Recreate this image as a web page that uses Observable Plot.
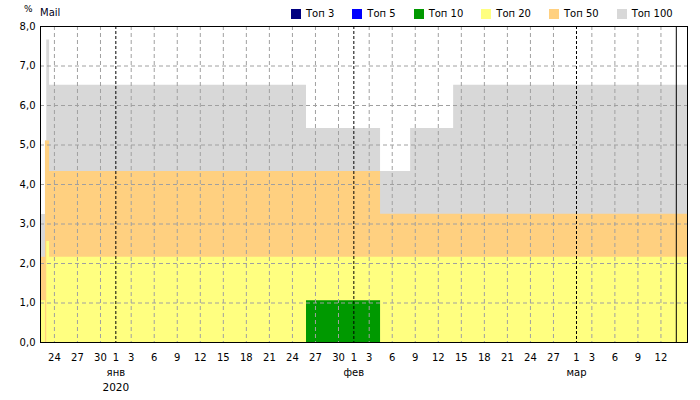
<!DOCTYPE html>
<html>
<head>
<meta charset="utf-8">
<script src="https://cdn.jsdelivr.net/npm/d3@7"></script>
<script src="https://cdn.jsdelivr.net/npm/@observablehq/plot@0.6"></script>
<style>
  html, body { margin: 0; padding: 0; background: white; }
  #wrap { position: relative; width: 700px; height: 400px; font-family: "DejaVu Sans", Verdana, sans-serif; }
  #legend { position: absolute; left: 291px; top: 9px; display: flex; align-items: center; font-size: 10px; color: #000; }
  #legend .sw { width: 10px; height: 10px; margin-right: 5px; }
  #legend .lb { margin-right: 18px; line-height: 10px; }
  #pct { position: absolute; left: 24px; top: 4px; font-size: 9px; }
  #title { position: absolute; left: 40px; top: 7px; font-size: 10px; color: #000020; }
</style>
</head>
<body>
<div id="wrap">
  <div id="chart"></div>
  <div id="pct">%</div>
  <div id="title">Mail</div>
  <div id="legend"></div>
</div>
<script>
// ---- data ----
const dates = ["2019-12-22T00:00Z", "2019-12-22T20:00Z", "2019-12-23T00:00Z", "2019-12-23T09:00Z",
               "2020-01-25T20:00Z", "2020-02-04T11:30Z", "2020-02-08T09:30Z", "2020-02-14T00:00Z",
               "2020-03-16T00:00Z"];
const top3   = [0, 0, 0, 0, 0, 0, 0, 0, 0];
const top5   = [0, 0, 0, 0, 0, 0, 0, 0, 0];
const top10  = [0, 0, 0, 0, 1.06, 0, 0, 0, 0];
const top20  = [1.06, 0, 2.56, 2.16, 2.16, 2.16, 2.16, 2.16, 2.16];
const top50  = [2.16, 5.1, 5.1, 4.33, 4.33, 3.25, 3.25, 3.25, 3.25];
const top100 = [3.24, 5.1, 7.66, 6.51, 5.42, 4.33, 5.42, 6.51, 6.51];

const seriesNames  = ["Топ 3", "Топ 5", "Топ 10", "Топ 20", "Топ 50", "Топ 100"];
const seriesColors = ["#000080", "#0000ff", "#009900", "#ffff80", "#ffd080", "#d8d8d8"];

const yTicks = [0, 1, 2, 3, 4, 5, 6, 7, 8];
const decTicks = [24, 27, 30];
const janTicks = [1, 3, 6, 9, 12, 15, 18, 21, 24, 27, 30];
const febTicks = [1, 3, 6, 9, 12, 15, 18, 21, 24, 27];
const marTicks = [1, 3, 6, 9, 12];
const monthNames = ["янв", "фев", "мар"];
const monthStartStr = ["2020-01-01T00:00Z", "2020-02-01T00:00Z", "2020-03-01T00:00Z"];
const yearLabel = "2020";
const todayStr = "2020-03-14T00:00Z";
const xDomainStr = ["2019-12-22T04:30Z", "2020-03-15T11:00Z"];

// ---- build ----
const D = dates.map(s => new Date(s));
const idx = D.map((_, i) => i);
const seriesValues = [top3, top5, top10, top20, top50, top100];

const mk = (y, m, d) => new Date(Date.UTC(y, m, d));
const tickDates = [
  ...decTicks.map(d => mk(2019, 11, d)),
  ...janTicks.map(d => mk(2020, 0, d)),
  ...febTicks.map(d => mk(2020, 1, d)),
  ...marTicks.map(d => mk(2020, 2, d))
];
const monthStarts = monthStartStr.map(s => new Date(s));
const gridDates = tickDates.filter(t => t.getUTCDate() !== 1);
const fmtY = d => d.toFixed(1).replace(".", ",");

const areas = [];
for (let k = seriesValues.length - 1; k >= 0; k--) {
  const vals = seriesValues[k];
  areas.push(Plot.areaY(idx, {
    x: i => D[i], y1: 0, y2: i => vals[i],
    curve: "step-after", fill: seriesColors[k], clip: true
  }));
}

const chart = Plot.plot({
  width: 700,
  height: 400,
  marginLeft: 40,
  marginRight: 13,
  marginTop: 26,
  marginBottom: 58,
  style: { fontFamily: "DejaVu Sans, Verdana, sans-serif", fontSize: "10px", background: "white", color: "black" },
  x: { type: "utc", domain: xDomainStr.map(s => new Date(s)) },
  y: { domain: [0, 8] },
  marks: [
    ...areas,
    Plot.ruleY(yTicks, { stroke: "#a0a0a0", strokeDasharray: "4,3" }),
    Plot.ruleX(gridDates, { stroke: "#a0a0a0", strokeDasharray: "4,3" }),
    Plot.ruleX(monthStarts, { stroke: "black", strokeDasharray: "3,2" }),
    Plot.ruleX([new Date(todayStr)], { stroke: "black" }),
    Plot.frame({ stroke: "black" }),
    Plot.axisY(yTicks, { tickSize: 0, tickPadding: 5, tickFormat: fmtY, label: null, fill: "black" }),
    Plot.axisX(tickDates, { tickSize: 0, tickPadding: 11, tickFormat: d3.utcFormat("%-d"), label: null, fill: "black" }),
    Plot.text(monthStarts, { x: d => d, frameAnchor: "bottom", dy: 33, text: (d, i) => monthNames[i], fill: "black" }),
    Plot.text([monthStarts[0]], { x: d => d, frameAnchor: "bottom", dy: 48, text: () => yearLabel, fill: "black", fontSize: 10.5 })
  ]
});
document.getElementById("chart").appendChild(chart);

const legend = document.getElementById("legend");
seriesNames.forEach((name, i) => {
  const sw = document.createElement("div");
  sw.className = "sw";
  sw.style.background = seriesColors[i];
  const lb = document.createElement("div");
  lb.className = "lb";
  lb.textContent = name;
  legend.appendChild(sw);
  legend.appendChild(lb);
});
</script>
</body>
</html>
